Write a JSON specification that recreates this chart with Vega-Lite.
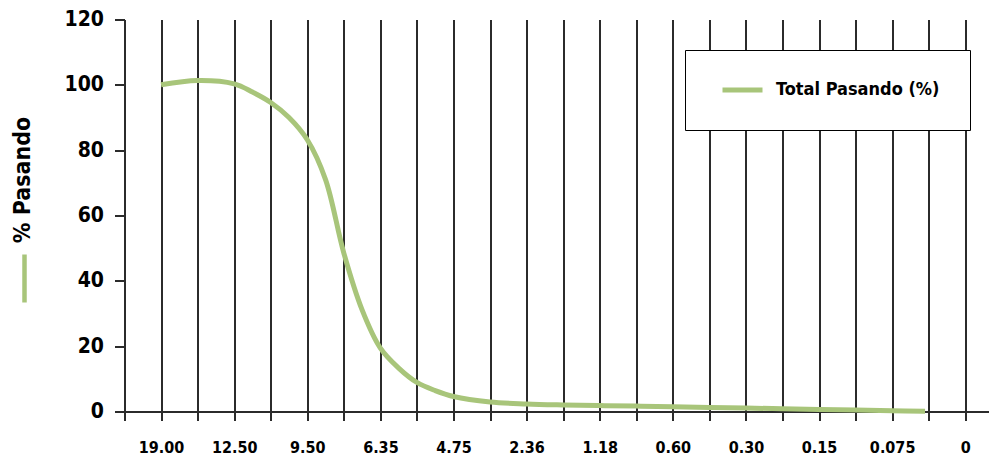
{
  "$schema": "https://vega.github.io/schema/vega-lite/v6.json",
  "width": 864.5,
  "height": 392,
  "autosize": {"type": "none"},
  "padding": {"left": 124.5, "top": 19.5, "right": 0, "bottom": 45.5},
  "background": "white",
  "config": {"view": {"stroke": null}, "font": "'DejaVu Sans Condensed', Roboto, sans-serif"},
  "layer": [
    {
      "data": {
        "values": [
          {"pos": 1, "pct": 100.0, "serie": "Total Pasando (%)"},
          {"pos": 2, "pct": 101.3, "serie": "Total Pasando (%)"},
          {"pos": 3, "pct": 100.3, "serie": "Total Pasando (%)"},
          {"pos": 3.5, "pct": 97.8, "serie": "Total Pasando (%)"},
          {"pos": 4, "pct": 94.6, "serie": "Total Pasando (%)"},
          {"pos": 4.5, "pct": 90.0, "serie": "Total Pasando (%)"},
          {"pos": 5, "pct": 83.2, "serie": "Total Pasando (%)"},
          {"pos": 5.5, "pct": 71.0, "serie": "Total Pasando (%)"},
          {"pos": 6, "pct": 48.5, "serie": "Total Pasando (%)"},
          {"pos": 6.5, "pct": 31.1, "serie": "Total Pasando (%)"},
          {"pos": 7, "pct": 19.4, "serie": "Total Pasando (%)"},
          {"pos": 7.5, "pct": 13.3, "serie": "Total Pasando (%)"},
          {"pos": 8, "pct": 8.9, "serie": "Total Pasando (%)"},
          {"pos": 8.5, "pct": 6.4, "serie": "Total Pasando (%)"},
          {"pos": 9, "pct": 4.6, "serie": "Total Pasando (%)"},
          {"pos": 10, "pct": 2.9, "serie": "Total Pasando (%)"},
          {"pos": 11, "pct": 2.3, "serie": "Total Pasando (%)"},
          {"pos": 12, "pct": 2.0, "serie": "Total Pasando (%)"},
          {"pos": 13, "pct": 1.8, "serie": "Total Pasando (%)"},
          {"pos": 14, "pct": 1.65, "serie": "Total Pasando (%)"},
          {"pos": 15, "pct": 1.45, "serie": "Total Pasando (%)"},
          {"pos": 16, "pct": 1.25, "serie": "Total Pasando (%)"},
          {"pos": 17, "pct": 1.05, "serie": "Total Pasando (%)"},
          {"pos": 18, "pct": 0.85, "serie": "Total Pasando (%)"},
          {"pos": 19, "pct": 0.65, "serie": "Total Pasando (%)"},
          {"pos": 20, "pct": 0.45, "serie": "Total Pasando (%)"},
          {"pos": 21, "pct": 0.25, "serie": "Total Pasando (%)"},
          {"pos": 21.9, "pct": 0.1, "serie": "Total Pasando (%)"}
        ]
      },
      "mark": {"type": "line", "interpolate": "catmull-rom", "strokeWidth": 5, "strokeCap": "butt"},
      "encoding": {
        "x": {
          "field": "pos",
          "type": "quantitative",
          "scale": {"domain": [0, 23.65], "nice": false, "zero": false},
          "axis": {
            "values": [0,1,2,3,4,5,6,7,8,9,10,11,12,13,14,15,16,17,18,19,20,21,22,23],
            "grid": true,
            "gridColor": "#2b2b2b",
            "gridWidth": 2,
            "gridOpacity": 1,
            "domainColor": "#2b2b2b",
            "domainWidth": 2,
            "tickColor": "#2b2b2b",
            "tickWidth": 2,
            "tickSize": 9,
            "labelExpr": "['','19.00','','12.50','','9.50','','6.35','','4.75','','2.36','','1.18','','0.60','','0.30','','0.15','','0.075','','0'][datum.value]",
            "labelFontSize": 16,
            "labelFontWeight": "bold",
            "labelColor": "black",
            "labelPadding": 19,
            "labelFlush": false,
            "labelOverlap": false,
            "title": null
          }
        },
        "y": {
          "field": "pct",
          "type": "quantitative",
          "scale": {"domain": [0, 120], "nice": false},
          "axis": {
            "values": [0, 20, 40, 60, 80, 100, 120],
            "grid": false,
            "domainColor": "#2b2b2b",
            "domainWidth": 2,
            "tickColor": "#2b2b2b",
            "tickWidth": 2,
            "tickSize": 10,
            "labelFontSize": 21,
            "labelFontWeight": "bold",
            "labelColor": "black",
            "labelPadding": 11,
            "title": "% Pasando",
            "titleFontSize": 23,
            "titleFontWeight": "bold",
            "titleColor": "black",
            "titleAngle": 270,
            "titleAlign": "center",
            "titleBaseline": "middle",
            "titleX": -102,
            "titleY": 160
          }
        },
        "color": {
          "field": "serie",
          "type": "nominal",
          "scale": {"range": ["#a8c57a"]},
          "legend": {
            "orient": "none",
            "legendX": 560.5,
            "legendY": 30.5,
            "title": null,
            "fillColor": "white",
            "strokeColor": "black",
            "padding": 30,
            "symbolType": "stroke",
            "symbolSize": 1600,
            "symbolStrokeWidth": 5,
            "symbolOffset": 5,
            "labelOffset": 11,
            "labelFontSize": 18,
            "labelFontWeight": "bold",
            "labelColor": "black",
            "labelLimit": 300,
            "clipHeight": 20
          }
        }
      }
    },
    {
      "data": {"values": [{"eje": "% Pasando"}]},
      "mark": {"type": "point", "opacity": 0, "filled": false, "strokeWidth": 4.5, "color": "#a8c57a"},
      "encoding": {
        "shape": {
          "field": "eje",
          "type": "nominal",
          "scale": {"range": ["M0,-1L0,1"]},
          "legend": {
            "orient": "none",
            "legendX": -126.5,
            "legendY": 232.5,
            "title": null,
            "padding": 0,
            "symbolSize": 2304,
            "symbolStrokeWidth": 4.5,
            "symbolStrokeColor": "#a8c57a",
            "symbolFillColor": "transparent",
            "symbolOpacity": 1,
            "labelExpr": "''",
            "labelOffset": 0
          }
        }
      }
    }
  ]
}
